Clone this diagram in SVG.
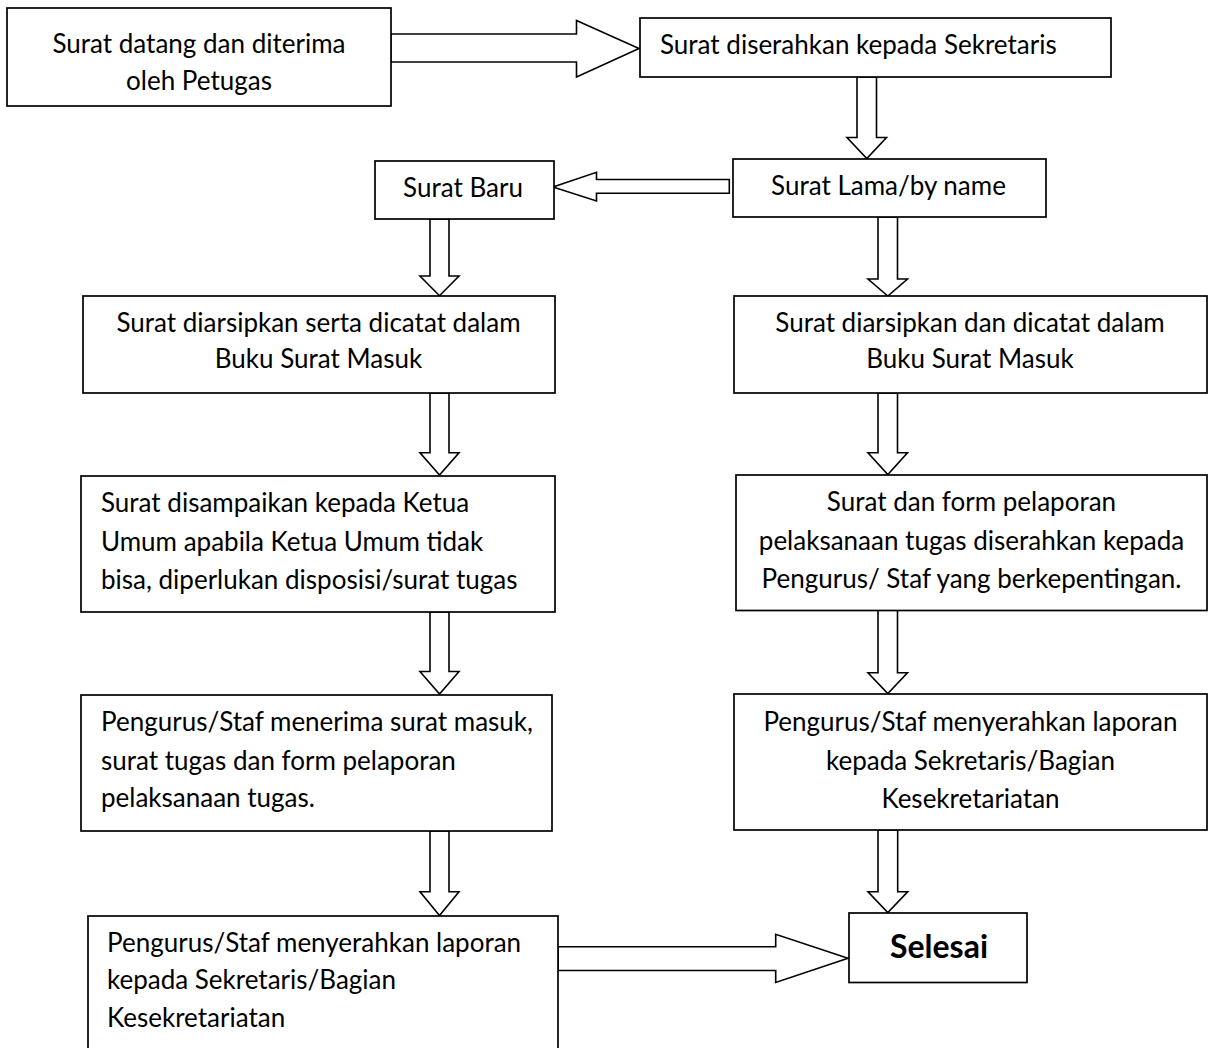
<svg xmlns="http://www.w3.org/2000/svg" width="1209" height="1048" viewBox="0 0 1209 1048">
  <style>
    .box { fill: #fff; stroke: #000; stroke-width: 1.7; }
    .arrow { fill: #fff; stroke: #000; stroke-width: 1.6; stroke-linejoin: miter; }
    text { font-family: Lato, "Liberation Sans", sans-serif; font-size: 26px; fill: #000; }
    .c { text-anchor: middle; }
    .end { font-weight: bold; font-size: 32px; }
  </style>
  <rect width="1209" height="1048" fill="#fff"/>

  <!-- block arrows -->
  <g id="connectors">
    <!-- petugas -> sekretaris -->
    <polygon class="arrow" points="390.7,34 576.5,34 576.5,20.5 639,48.5 576.5,77 576.5,62 390.7,62"/>
    <!-- sekretaris -> surat lama -->
    <polygon class="arrow" points="857,77 876.5,77 876.5,137.5 886.5,137.5 866.8,158.5 847,137.5 857,137.5"/>
    <!-- surat lama -> surat baru -->
    <polygon class="arrow" points="729.3,179.5 596.5,179.5 596.5,172.3 553,187 596.5,201 596.5,193.3 729.3,193.3"/>
    <!-- left column -->
    <polygon class="arrow" points="430,219 449,219 449,276 459,276 439.5,295.7 420,276 430,276"/>
    <polygon class="arrow" points="430,393 449,393 449,452.7 459,452.7 439.5,475 420,452.7 430,452.7"/>
    <polygon class="arrow" points="430,612 449,612 449,671.5 459,671.5 439.5,694 420,671.5 430,671.5"/>
    <polygon class="arrow" points="430,831 449,831 449,891.7 459,891.7 439.5,915.5 420,891.7 430,891.7"/>
    <!-- right column -->
    <polygon class="arrow" points="878,217 897.5,217 897.5,279 907.5,279 887.8,296 868,279 878,279"/>
    <polygon class="arrow" points="878,393 897.5,393 897.5,452.7 907.5,452.7 887.8,474.5 868,452.7 878,452.7"/>
    <polygon class="arrow" points="878,610 897.5,610 897.5,672.7 907.5,672.7 887.8,693.5 868,672.7 878,672.7"/>
    <polygon class="arrow" points="878,830 897.7,830 897.7,891.7 907.7,891.7 887.8,912.5 868,891.7 878,891.7"/>
    <!-- laporan -> selesai -->
    <polygon class="arrow" points="558,946.7 775.7,946.7 775.7,934.3 848,958.3 775.7,982.5 775.7,970.5 558,970.5"/>
  </g>

  <g id="n-petugas">
    <rect class="box" x="7" y="8" width="384" height="98"/>
    <text class="c" x="199" y="53">Surat datang dan diterima</text>
    <text class="c" x="199" y="90">oleh Petugas</text>
  </g>

  <g id="n-sekretaris">
    <rect class="box" x="640" y="18" width="471" height="59"/>
    <text x="660" y="54">Surat diserahkan kepada Sekretaris</text>
  </g>

  <g id="n-surat-lama">
    <rect class="box" x="733" y="159" width="313" height="58"/>
    <text class="c" x="888.5" y="195">Surat Lama/by name</text>
  </g>

  <g id="n-surat-baru">
    <rect class="box" x="375" y="161" width="179" height="58"/>
    <text class="c" x="463" y="197">Surat Baru</text>
  </g>

  <g id="n-arsip-baru">
    <rect class="box" x="83" y="296" width="472" height="97"/>
    <text class="c" x="318.5" y="331.5">Surat diarsipkan serta dicatat dalam</text>
    <text class="c" x="318.5" y="368">Buku Surat Masuk</text>
  </g>

  <g id="n-arsip-lama">
    <rect class="box" x="734" y="296" width="473" height="97"/>
    <text class="c" x="970" y="331.5">Surat diarsipkan dan dicatat dalam</text>
    <text class="c" x="970" y="368">Buku Surat Masuk</text>
  </g>

  <g id="n-ketua">
    <rect class="box" x="81" y="476" width="474" height="136"/>
    <text x="101" y="511.5">Surat disampaikan kepada Ketua</text>
    <text x="101" y="550.5">Umum apabila Ketua Umum tidak</text>
    <text x="101" y="588.5">bisa, diperlukan disposisi/surat tugas</text>
  </g>

  <g id="n-form-lama">
    <rect class="box" x="736" y="475" width="471" height="135.5"/>
    <text class="c" x="971.5" y="510.5">Surat dan form pelaporan</text>
    <text class="c" x="971.5" y="549.5">pelaksanaan tugas diserahkan kepada</text>
    <text class="c" x="971.5" y="587.5">Pengurus/ Staf yang berkepentingan.</text>
  </g>

  <g id="n-terima">
    <rect class="box" x="81" y="695" width="471" height="136"/>
    <text x="101" y="730.5">Pengurus/Staf menerima surat masuk,</text>
    <text x="101" y="769.5">surat tugas dan form pelaporan</text>
    <text x="101" y="807">pelaksanaan tugas.</text>
  </g>

  <g id="n-lapor-lama">
    <rect class="box" x="734" y="694" width="473" height="136"/>
    <text class="c" x="970.5" y="730.5">Pengurus/Staf menyerahkan laporan</text>
    <text class="c" x="970.5" y="769.5">kepada Sekretaris/Bagian</text>
    <text class="c" x="970.5" y="807.5">Kesekretariatan</text>
  </g>

  <g id="n-lapor-baru">
    <rect class="box" x="88" y="916" width="470" height="150"/>
    <text x="107" y="951.5">Pengurus/Staf menyerahkan laporan</text>
    <text x="107" y="988.5">kepada Sekretaris/Bagian</text>
    <text x="107" y="1026.5">Kesekretariatan</text>
  </g>

  <g id="n-selesai">
    <rect class="box" x="849" y="913" width="178" height="69.5"/>
    <text class="c end" x="939" y="958">Selesai</text>
  </g>
</svg>
